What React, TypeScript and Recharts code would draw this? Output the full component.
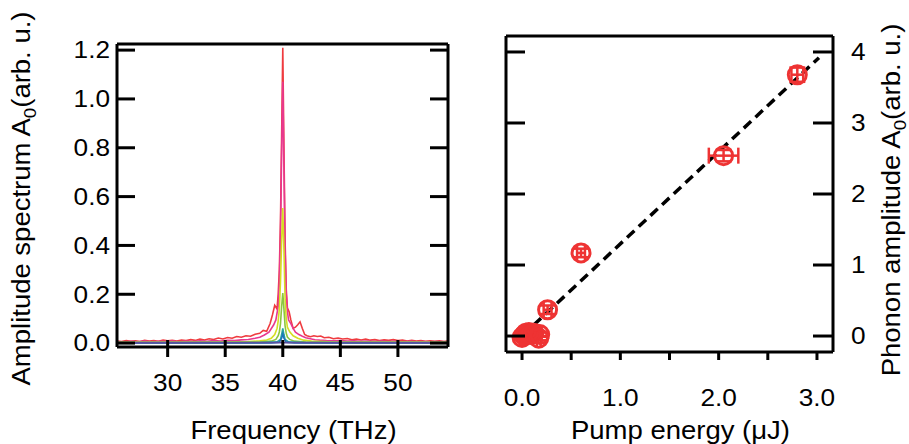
import React from 'react';
import { ComposedChart, LineChart, Line, XAxis, YAxis, Scatter, ErrorBar, Label } from 'recharts';

// ---------- Left panel: amplitude spectra (frequency THz, amplitude) ----------
const SPEC_RED: [number, number][] = [
  [25.6, 0.008], [26.0, 0.006], [26.4, 0.010], [26.8, 0.007], [27.2, 0.009], [27.6, 0.006], [28.0, 0.011], [28.4, 0.008],
  [28.8, 0.010], [29.2, 0.007], [29.6, 0.012], [30.0, 0.009], [30.4, 0.011], [30.8, 0.008], [31.2, 0.012], [31.6, 0.010],
  [32.0, 0.014], [32.4, 0.011], [32.8, 0.016], [33.2, 0.013], [33.6, 0.018], [34.0, 0.015], [34.4, 0.021], [34.8, 0.017],
  [35.2, 0.023], [35.6, 0.020], [36.0, 0.027], [36.4, 0.024], [36.8, 0.030], [37.2, 0.028], [37.6, 0.036], [38.0, 0.040],
  [38.3, 0.052], [38.6, 0.048], [38.9, 0.080], [39.1, 0.115], [39.3, 0.155], [39.5, 0.140], [39.6, 0.20], [39.7, 0.30],
  [39.8, 0.50], [39.9, 0.85], [40.0, 1.21], [40.1, 0.80], [40.2, 0.42], [40.3, 0.22], [40.4, 0.145], [40.55, 0.128],
  [40.7, 0.095], [40.9, 0.060], [41.1, 0.065], [41.3, 0.075], [41.5, 0.087], [41.7, 0.060], [41.9, 0.035], [42.1, 0.030],
  [42.4, 0.026], [42.7, 0.030], [43.0, 0.027], [43.3, 0.029], [43.6, 0.022], [44.0, 0.024], [44.4, 0.018], [44.8, 0.021],
  [45.2, 0.017], [45.6, 0.019], [46.0, 0.014], [46.4, 0.017], [46.8, 0.013], [47.2, 0.016], [47.6, 0.012], [48.0, 0.014],
  [48.4, 0.010], [48.8, 0.013], [49.2, 0.011], [49.6, 0.014], [50.0, 0.010], [50.4, 0.012], [50.8, 0.008], [51.2, 0.011],
  [51.6, 0.008], [52.0, 0.010], [52.4, 0.007], [52.8, 0.009], [53.2, 0.007], [53.6, 0.009], [54.0, 0.006], [54.3, 0.008],
];
const SPEC_MAGENTA: [number, number][] = [
  [25.6, 0.006], [26.2, 0.004], [26.8, 0.007], [27.4, 0.005], [28.0, 0.008], [28.6, 0.005], [29.2, 0.007], [29.8, 0.006],
  [30.4, 0.008], [31.0, 0.005], [31.6, 0.008], [32.2, 0.006], [32.8, 0.009], [33.4, 0.007], [34.0, 0.010], [34.6, 0.008],
  [35.2, 0.011], [35.8, 0.010], [36.4, 0.013], [37.0, 0.015], [37.6, 0.020], [38.0, 0.024], [38.4, 0.033], [38.8, 0.045],
  [39.2, 0.074], [39.4, 0.095], [39.6, 0.15], [39.7, 0.25], [39.8, 0.45], [39.9, 0.78], [40.0, 1.07], [40.1, 0.72],
  [40.2, 0.38], [40.3, 0.20], [40.4, 0.13], [40.5, 0.095], [40.7, 0.08], [40.9, 0.06], [41.1, 0.045], [41.4, 0.035],
  [41.7, 0.028], [42.0, 0.022], [42.4, 0.018], [42.8, 0.014], [43.2, 0.012], [43.8, 0.010], [44.4, 0.009], [45.0, 0.010],
  [45.6, 0.008], [46.2, 0.009], [46.8, 0.007], [47.4, 0.008], [48.0, 0.006], [48.6, 0.008], [49.2, 0.006], [49.8, 0.007],
  [50.4, 0.005], [51.0, 0.007], [51.6, 0.005], [52.2, 0.006], [52.8, 0.005], [53.4, 0.006], [54.3, 0.005],
];
const SPEC_YELLOW: [number, number][] = [
  [25.6, 0.003], [30.0, 0.003], [35.0, 0.004], [37.0, 0.006], [38.0, 0.009], [38.6, 0.013], [39.0, 0.02], [39.3, 0.035],
  [39.5, 0.06], [39.6, 0.09], [39.7, 0.14], [39.8, 0.25], [39.9, 0.42], [40.0, 0.553], [40.1, 0.38], [40.2, 0.18],
  [40.3, 0.10], [40.4, 0.065], [40.6, 0.046], [40.9, 0.03], [41.3, 0.02], [41.8, 0.012], [42.5, 0.008], [44.0, 0.005],
  [47.0, 0.004], [54.3, 0.003],
];
const SPEC_GREEN: [number, number][] = [
  [25.6, 0.002], [36.0, 0.002], [38.0, 0.004], [39.0, 0.008], [39.4, 0.015], [39.6, 0.03], [39.7, 0.045], [39.8, 0.08],
  [39.9, 0.15], [40.0, 0.205], [40.1, 0.14], [40.2, 0.07], [40.3, 0.04], [40.4, 0.025], [40.6, 0.015], [41.0, 0.008],
  [42.0, 0.004], [44.0, 0.002], [54.3, 0.002],
];
const SPEC_TEAL: [number, number][] = [
  [25.6, 0.002], [38.0, 0.002], [39.5, 0.005], [39.8, 0.015], [39.9, 0.035], [40.0, 0.06], [40.1, 0.035], [40.2, 0.015],
  [40.5, 0.005], [42.0, 0.002], [54.3, 0.002],
];
const SPEC_BLUE: [number, number][] = [
  [25.6, 0.001], [39.0, 0.001], [39.7, 0.004], [39.9, 0.02], [40.0, 0.038], [40.1, 0.02], [40.3, 0.004], [41.0, 0.001],
  [54.3, 0.001],
];
const SPEC_PURPLE: [number, number][] = [
  [25.6, 0.001], [40.0, 0.002], [54.3, 0.001],
];
const SPEC_SERIES = [
  { name: 'red', color: '#EF3B3F', pts: SPEC_RED },
  { name: 'magenta', color: '#E8388F', pts: SPEC_MAGENTA },
  { name: 'yellow', color: '#D5DE24', pts: SPEC_YELLOW },
  { name: 'green', color: '#8CC63F', pts: SPEC_GREEN },
  { name: 'teal', color: '#2AA79C', pts: SPEC_TEAL },
  { name: 'blue', color: '#1B75BC', pts: SPEC_BLUE },
  { name: 'purple', color: '#5B4FA0', pts: SPEC_PURPLE },
];
const FREQ_TICKS = [30, 35, 40, 45, 50];
const SPEC_TICKS = [0, 0.2, 0.4, 0.6, 0.8, 1.0, 1.2];

// ---------- Right panel: phonon amplitude vs pump energy ----------
const PUMP_E = [0.6, 0.26, 2.05, 2.8, 0.0, 0.02, 0.04, 0.07, 0.09, 0.12, 0.17, 0.18];
const PHONON_A = [1.17, 0.37, 2.54, 3.68, -0.02, 0.01, 0.04, 0.05, 0.02, 0.04, -0.03, 0.02];
const ERR_E = [0.04, 0.04, 0.15, 0.06, 0.02, 0.02, 0.02, 0.02, 0.02, 0.02, 0.02, 0.02];
const ERR_A = [0.06, 0.06, 0.08, 0.1, 0.03, 0.03, 0.03, 0.03, 0.03, 0.03, 0.03, 0.03];
const FIT_E = [0.0, 3.02];
const FIT_A = [0.0, 3.92];
const PUMP_TICKS = [0, 0.5, 1.0, 1.5, 2.0, 2.5, 3.0];
const PHONON_TICKS = [0, 1, 2, 3, 4];

const FONT = '"Liberation Sans", Arial, Helvetica, sans-serif';
const RED = '#EE3333';
const AX = { stroke: '#000', strokeWidth: 3 };
const TICK_SIZE = 23;
const TICK_SX = 1.14;
const TITLE_SIZE = 25;
const TITLE_SX = 1.1;

function SText(props: any) {
  const { x, y, size, anchor = 'middle', rotate = 0, sx = TICK_SX, children } = props;
  return (
    <text
      transform={`translate(${x},${y}) rotate(${rotate}) scale(${sx},1)`}
      x={0}
      y={0}
      dy="0.36em"
      textAnchor={anchor}
      fontFamily={FONT}
      fontSize={size}
      fill="#000"
    >
      {children}
    </text>
  );
}

function AxisTitle(props: any) {
  const { x, y, rotate, main, tail } = props;
  return (
    <SText x={x} y={y} size={TITLE_SIZE} rotate={rotate} sx={TITLE_SX}>
      <tspan>{main}</tspan>
      <tspan fontSize={17} dy={6}>0</tspan>
      <tspan dy={-6}>{tail}</tspan>
    </SText>
  );
}

const specData = SPEC_SERIES.map((s) => s.pts.map(([f, a]) => ({ f, a })));
const pointData = PUMP_E.map((e, i) => ({ x: e, y: PHONON_A[i], ex: ERR_E[i], ey: ERR_A[i] }));
const fitData = FIT_E.map((e, i) => ({ x: e, y: FIT_A[i] }));

export default function App() {
  return (
    <div style={{ position: 'absolute', left: 0, top: 0, width: 909, height: 444, background: '#fff' }}>
      {/* Left panel */}
      <div style={{ position: 'absolute', left: 0, top: 0 }}>
        <LineChart width={460} height={444} margin={{ top: 0, right: 0, bottom: 0, left: 0 }}>
          <XAxis
            xAxisId="b"
            dataKey="f"
            type="number"
            domain={[25.6, 54.35]}
            allowDataOverflow
            ticks={FREQ_TICKS}
            height={97}
            axisLine={AX}
            tickLine={false}
            tickSize={0}
            tickMargin={0}
            tick={(p: any) => (
              <g>
                <line x1={p.x} x2={p.x} y1={p.y - 7} y2={p.y + 10} stroke="#000" strokeWidth={3} />
                <SText x={p.x} y={p.y + 36} size={TICK_SIZE}>{String(p.payload.value)}</SText>
              </g>
            )}
          >
            <Label
              content={(lp: any) => (
                <SText x={lp.viewBox.x + lp.viewBox.width / 2 + 11} y={430} size={TITLE_SIZE} sx={TITLE_SX}>Frequency (THz)</SText>
              )}
            />
          </XAxis>
          <XAxis xAxisId="t" orientation="top" type="number" domain={[25.6, 54.35]} allowDataOverflow height={44} axisLine={AX} tick={false} tickLine={false} />
          <YAxis
            yAxisId="l"
            type="number"
            domain={[-0.016, 1.225]}
            allowDataOverflow
            ticks={SPEC_TICKS}
            width={117}
            axisLine={AX}
            tickLine={false}
            tickSize={0}
            tickMargin={0}
            tick={(p: any) => (
              <g>
                <line x1={p.x} x2={p.x + 18} y1={p.y} y2={p.y} stroke="#000" strokeWidth={3} />
                <SText x={p.x - 7} y={p.y} size={TICK_SIZE} anchor="end">{Number(p.payload.value).toFixed(1)}</SText>
              </g>
            )}
          >
            <Label
              content={(lp: any) => (
                <AxisTitle x={21} y={lp.viewBox.y + lp.viewBox.height / 2 + 3} rotate={-90} main="Amplitude spectrum A" tail="(arb. u.)" />
              )}
            />
          </YAxis>
          <YAxis
            yAxisId="r"
            orientation="right"
            type="number"
            domain={[-0.016, 1.225]}
            allowDataOverflow
            ticks={SPEC_TICKS}
            width={12}
            axisLine={AX}
            tickLine={false}
            tickSize={0}
            tickMargin={0}
            tick={(p: any) => <line x1={p.x - 18} x2={p.x} y1={p.y} y2={p.y} stroke="#000" strokeWidth={3} />}
          />
          {SPEC_SERIES.map((s, i) => (
            <Line
              key={s.name}
              xAxisId="b"
              yAxisId="l"
              data={specData[i]}
              dataKey="a"
              type="linear"
              stroke={s.color}
              strokeWidth={1.6}
              dot={false}
              activeDot={false}
              isAnimationActive={false}
            />
          ))}
        </LineChart>
      </div>

      {/* Right panel */}
      <div style={{ position: 'absolute', left: 460, top: 0 }}>
        <ComposedChart width={449} height={444} margin={{ top: 0, right: 0, bottom: 0, left: 0 }}>
          <XAxis
            xAxisId="b"
            dataKey="x"
            type="number"
            domain={[-0.163, 3.163]}
            allowDataOverflow
            ticks={PUMP_TICKS}
            height={92}
            axisLine={AX}
            tickLine={false}
            tickSize={0}
            tickMargin={0}
            tick={(p: any) => (
              <g>
                <line x1={p.x} x2={p.x} y1={p.y} y2={p.y + 8} stroke="#000" strokeWidth={3} />
                {Number.isInteger(p.payload.value) ? (
                  <SText x={p.x} y={p.y + 46} size={TICK_SIZE}>{Number(p.payload.value).toFixed(1)}</SText>
                ) : null}
              </g>
            )}
          >
            <Label
              content={(lp: any) => (
                <SText x={lp.viewBox.x + lp.viewBox.width / 2 + 11} y={430} size={TITLE_SIZE} sx={TITLE_SX}>Pump energy (μJ)</SText>
              )}
            />
          </XAxis>
          <XAxis xAxisId="t" orientation="top" type="number" domain={[-0.163, 3.163]} allowDataOverflow height={36} axisLine={AX} tick={false} tickLine={false} />
          <YAxis
            yAxisId="l"
            type="number"
            domain={[-0.225, 4.225]}
            allowDataOverflow
            ticks={PHONON_TICKS}
            width={46}
            axisLine={AX}
            tickLine={false}
            tickSize={0}
            tickMargin={0}
            tick={(p: any) => <line x1={p.x} x2={p.x + 19} y1={p.y} y2={p.y} stroke="#000" strokeWidth={3} />}
          />
          <YAxis
            yAxisId="r"
            orientation="right"
            type="number"
            domain={[-0.225, 4.225]}
            allowDataOverflow
            ticks={PHONON_TICKS}
            width={76}
            axisLine={AX}
            tickLine={false}
            tickSize={0}
            tickMargin={0}
            tick={(p: any) => (
              <g>
                <line x1={p.x - 20} x2={p.x} y1={p.y} y2={p.y} stroke="#000" strokeWidth={3} />
                <SText x={p.x + 18} y={p.y} size={TICK_SIZE} anchor="start">{String(p.payload.value)}</SText>
              </g>
            )}
          >
            <Label
              content={(lp: any) => (
                <AxisTitle x={lp.viewBox.x + 58} y={lp.viewBox.y + lp.viewBox.height / 2 + 6} rotate={-90} main="Phonon amplitude A" tail="(arb. u.)" />
              )}
            />
          </YAxis>
          <Line
            xAxisId="b"
            yAxisId="l"
            data={fitData}
            dataKey="y"
            type="linear"
            stroke="#000"
            strokeWidth={3.5}
            strokeDasharray="10 6"
            dot={false}
            activeDot={false}
            isAnimationActive={false}
          />
          <Scatter
            xAxisId="b"
            yAxisId="l"
            data={pointData}
            dataKey="y"
            isAnimationActive={false}
            shape={(p: any) => <circle cx={p.cx} cy={p.cy} r={9} fill="none" stroke={RED} strokeWidth={3} />}
          >
            <ErrorBar dataKey="ex" direction="x" width={8} stroke={RED} strokeWidth={2.5} />
            <ErrorBar dataKey="ey" direction="y" width={8} stroke={RED} strokeWidth={2.5} />
          </Scatter>
        </ComposedChart>
      </div>
    </div>
  );
}
